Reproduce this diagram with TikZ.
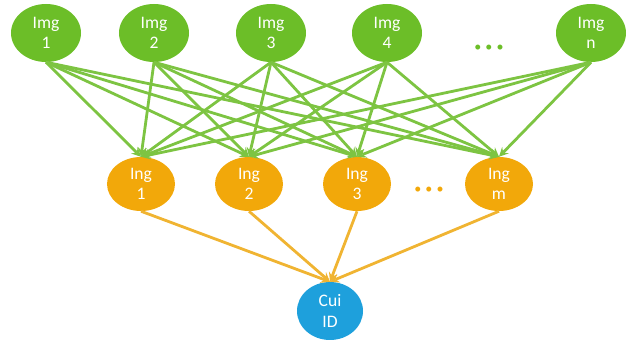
\documentclass[tikz,border=0pt]{standalone}
\usepackage{fontspec}
\setmainfont{Carlito}
\usepackage{tikz}
\usetikzlibrary{shapes.geometric}

\definecolor{imggreen}{RGB}{108,190,40}
\definecolor{edgegreen}{RGB}{125,196,66}
\definecolor{inggold}{RGB}{242,168,10}
\definecolor{edgegold}{RGB}{240,180,50}
\definecolor{cuiblue}{RGB}{30,160,220}

\tikzset{
    blob/.style={ellipse, inner sep=0pt, text=white, align=center,
        font=\fontsize{15}{17.5}\selectfont},
    imgnode/.style={blob, fill=imggreen, minimum width=2.1cm, minimum height=1.74cm},
    ingnode/.style={blob, fill=inggold, minimum width=2.04cm, minimum height=1.62cm},
    cuinode/.style={blob, fill=cuiblue, minimum width=1.98cm, minimum height=1.74cm},
    dots/.style={font=\fontsize{12}{12}\selectfont}
}

\begin{document}
\begin{tikzpicture}[x=0.03cm, y=-0.03cm, >=stealth]
    \useasboundingbox (0,0) rectangle (633,343);

    % Draw the image nodes
    \node[imgnode] (img1) at (46,33) {Img\\1};
    \node[imgnode] (img2) at (154,33) {Img\\2};
    \node[imgnode] (img3) at (271,33) {Img\\3};
    \node[imgnode] (img4) at (387,33) {Img\\4};
    \node[imgnode] (img5) at (591,33) {Img\\n};
    \node[dots, text=imggreen] (imgdots) at (489,48) {•\hspace{3.5pt}•\hspace{3.5pt}•};

    % Draw the ingredient nodes
    \node[ingnode] (ing1) at (141,184) {Ing\\1};
    \node[ingnode] (ing2) at (249,184) {Ing\\2};
    \node[ingnode] (ing3) at (357,184) {Ing\\3};
    \node[ingnode] (ing4) at (499,184) {Ing\\m};
    \node[dots, text=inggold] (ingdots) at (429,190) {•\hspace{3.5pt}•\hspace{3.5pt}•};

    % Draw the id node
    \node[cuinode] (cui) at (330,311) {Cui\\ID};

    % Connect images to ingredients
    \foreach \i in {1,...,5}
        \foreach \j in {1,...,4}
            \draw[->, edgegreen, line width=2.4pt] (img\i.south) -- (ing\j.north);

    % Connect ingredients to the id
    \foreach \j in {1,...,4}
        \draw[->, edgegold, line width=2.4pt] (ing\j.south) -- (cui.north);
\end{tikzpicture}
\end{document}
